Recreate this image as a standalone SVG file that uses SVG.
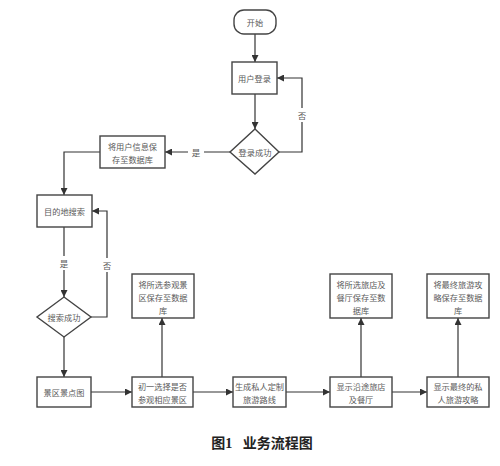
<svg xmlns="http://www.w3.org/2000/svg" width="500" height="466" viewBox="0 0 500 466">
<defs>
<marker id="ah" viewBox="0 0 10 10" refX="10" refY="5" markerWidth="7" markerHeight="7" orient="auto" markerUnits="userSpaceOnUse">
<path d="M0,0 L10,5 L0,10 z" fill="#333"/>
</marker>
</defs>
<style>
.n{fill:#fff;stroke:#444;stroke-width:1.4}
.t{font-family:"Noto Sans CJK SC","Noto Sans",sans-serif;font-size:8.2px;fill:#5a5a5a;text-anchor:middle;dominant-baseline:central}
.c{fill:none;stroke:#333;stroke-width:1.2;marker-end:url(#ah)}
.lb{font-family:"Noto Sans CJK SC","Noto Sans",sans-serif;font-size:8.5px;fill:#5a5a5a;text-anchor:middle;dominant-baseline:central}
</style>
<rect width="500" height="466" fill="#fff"/>
<g id="connectors">
<path class="c" d="M255,34 L255,62"/>
<path class="c" d="M255,94 L255,129"/>
<path class="c" d="M279,152 L302,152 L302,78 L277,78"/>
<path class="c" d="M230,152 L165,152"/>
<path class="c" d="M100,152 L64,152 L64,195"/>
<path class="c" d="M64,227 L64,297"/>
<path class="c" d="M91,317 L107,317 L107,211 L92,211"/>
<path class="c" d="M64,337 L64,377"/>
<path class="c" d="M91,392 L132,392"/>
<path class="c" d="M193,392 L233,392"/>
<path class="c" d="M286,392 L330,392"/>
<path class="c" d="M392,392 L427,392"/>
<path class="c" d="M162,377 L162,318"/>
<path class="c" d="M361,377 L361,318"/>
<path class="c" d="M458,377 L458,318"/>
<rect x="294" y="108" width="16" height="14" fill="#fff"/>
<text class="lb" x="302" y="115">否</text>
<rect x="188" y="145" width="16" height="14" fill="#fff"/>
<text class="lb" x="196" y="152">是</text>
<rect x="56" y="256" width="16" height="14" fill="#fff"/>
<text class="lb" x="64" y="263">是</text>
<rect x="99" y="258" width="16" height="14" fill="#fff"/>
<text class="lb" x="107" y="265">否</text>
</g>
<g id="start"><rect class="n" x="234" y="10" width="42" height="24" rx="10"/><text class="t" x="255" y="22">开始</text></g>
<g id="login"><rect class="n" x="232" y="62" width="45" height="32"/><text class="t" x="254.5" y="78">用户登录</text></g>
<g id="loginok"><path class="n" d="M255,129 L279,152 L255,174 L230,152 z"/><text class="t" x="255" y="152">登录成功</text></g>
<g id="saveuser"><rect class="n" x="100" y="136" width="65" height="32"/><text class="t" x="132.5" y="146">将用户信息保</text><text class="t" x="132.5" y="159">存至数据库</text></g>
<g id="search"><rect class="n" x="37" y="195" width="55" height="32"/><text class="t" x="64.5" y="211">目的地搜索</text></g>
<g id="searchok"><path class="n" d="M64,297 L91,317 L64,337 L37,317 z"/><text class="t" x="64" y="317">搜索成功</text></g>
<g id="map"><rect class="n" x="37" y="377" width="54" height="30"/><text class="t" x="64" y="392">景区景点图</text></g>
<g id="choose"><rect class="n" x="132" y="377" width="61" height="30"/><text class="t" x="162.5" y="386">初一选择是否</text><text class="t" x="162.5" y="399">参观相应景区</text></g>
<g id="savespot"><rect class="n" x="132" y="274" width="62" height="44"/><text class="t" x="163" y="284">将所选参观景</text><text class="t" x="163" y="297">区保存至数据</text><text class="t" x="163" y="310">库</text></g>
<g id="route"><rect class="n" x="233" y="377" width="53" height="30"/><text class="t" x="259.5" y="386">生成私人定制</text><text class="t" x="259.5" y="399">旅游路线</text></g>
<g id="hotel"><rect class="n" x="330" y="377" width="62" height="30"/><text class="t" x="361" y="386">显示沿途旅店</text><text class="t" x="361" y="399">及餐厅</text></g>
<g id="savehotel"><rect class="n" x="330" y="274" width="62" height="44"/><text class="t" x="361" y="284">将所选旅店及</text><text class="t" x="361" y="297">餐厅保存至数</text><text class="t" x="361" y="310">据库</text></g>
<g id="guide"><rect class="n" x="427" y="377" width="62" height="30"/><text class="t" x="458" y="386">显示最终的私</text><text class="t" x="458" y="399">人旅游攻略</text></g>
<g id="saveguide"><rect class="n" x="427" y="274" width="62" height="44"/><text class="t" x="458" y="284">将最终旅游攻</text><text class="t" x="458" y="297">略保存至数据</text><text class="t" x="458" y="310">库</text></g>
<text x="262" y="443" font-family="'Liberation Serif','Noto Sans CJK SC',serif" font-size="14" font-weight="bold" fill="#222" text-anchor="middle" dominant-baseline="central" xml:space="preserve">图1   业务流程图</text>
</svg>
